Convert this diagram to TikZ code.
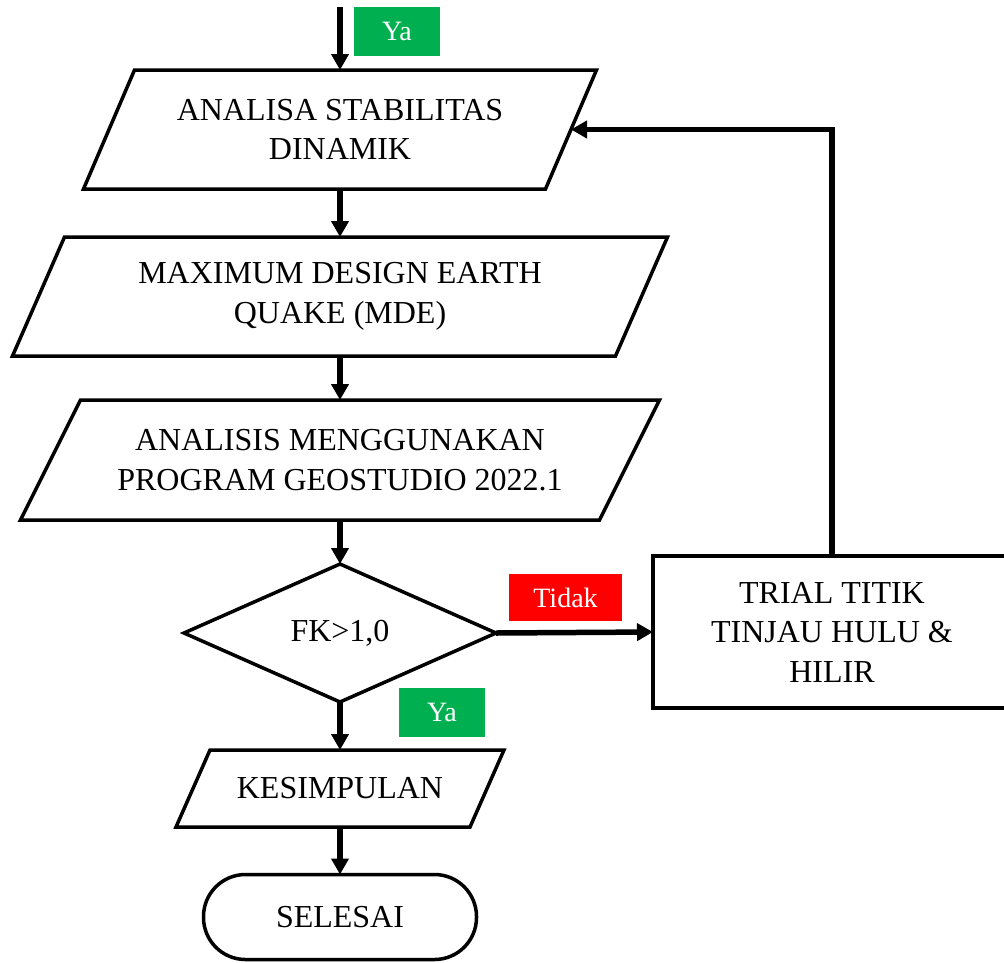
\documentclass[tikz,border=0pt]{standalone}
\usepackage{fontspec}
\setmainfont{Liberation Serif}
\usetikzlibrary{shapes.geometric,arrows.meta}
\definecolor{yagreen}{HTML}{00B050}
\definecolor{tidakred}{HTML}{FF0000}
\newcommand{\paraoutline}[2]{%
  \draw[outline] ([xshift=-#2]#1.south west) -- ([xshift=#2]#1.north west)
    -- ([xshift=#2]#1.north east) -- ([xshift=-#2]#1.south east) -- cycle;}
\begin{document}
\begin{tikzpicture}[x=1pt,y=-1pt,
  txt/.style={inner sep=0pt, outer sep=0pt, align=center,
    font=\fontsize{32}{39.5}\selectfont},
  outline/.style={line width=3.5pt, line join=miter},
  box/.style={txt, draw, line width=3.5pt},
  flow/.style={line width=5.5pt, -{Triangle[length=16pt,width=17pt]}},
  tag/.style={fill=#1, text=white, inner sep=0pt,
    font=\fontsize{28}{30}\selectfont}
]
\useasboundingbox (0,0) rectangle (1004,962);

\node[txt, minimum width=462pt, minimum height=119pt] (p1) at (340,129.5)
  {ANALISA STABILITAS\\DINAMIK};
\node[txt, minimum width=603pt, minimum height=119pt] (p2) at (340,296.5)
  {MAXIMUM DESIGN EARTH\\QUAKE (MDE)};
\node[txt, minimum width=579pt, minimum height=120pt] (p3) at (340,460)
  {ANALISIS MENGGUNAKAN\\PROGRAM GEOSTUDIO 2022.1};
\node[box, diamond, minimum width=312pt, minimum height=138pt] (fk) at (340,633)
  {FK>1,0};
\node[box, rectangle, minimum width=358pt, minimum height=152pt] (trial) at (832,632)
  {TRIAL TITIK\\TINJAU HULU \&\\HILIR};
\node[txt, minimum width=294pt, minimum height=77pt] (kes) at (340,788.5)
  {KESIMPULAN};
\node[box, rectangle, rounded corners=42pt, minimum width=273pt,
  minimum height=85pt] (end) at (340,917) {SELESAI};

\paraoutline{p1}{25.5pt}
\paraoutline{p2}{26pt}
\paraoutline{p3}{30pt}
\paraoutline{kes}{17pt}

\node[tag=yagreen, minimum width=86pt, minimum height=49pt] (ya1) at (397,31.5) {Ya};
\node[tag=tidakred, minimum width=113pt, minimum height=47pt] (tdk) at (565.5,597.5) {Tidak};
\node[tag=yagreen, minimum width=86pt, minimum height=49pt] (ya2) at (442,712.5) {Ya};

\coordinate (start) at (340,7);
\draw[flow] (start) -- (p1.north);
\draw[flow] (p1.south) -- (p2.north);
\draw[flow] (p2.south) -- (p3.north);
\draw[flow] (p3.south) -- (fk.north);
\draw[flow] (fk.south) -- (kes.north);
\draw[flow] (kes.south) -- (end.north);
\draw[flow] (fk.east) -- (trial.west);
\draw[flow] (trial.north) |- (p1.east);
\end{tikzpicture}
\end{document}
